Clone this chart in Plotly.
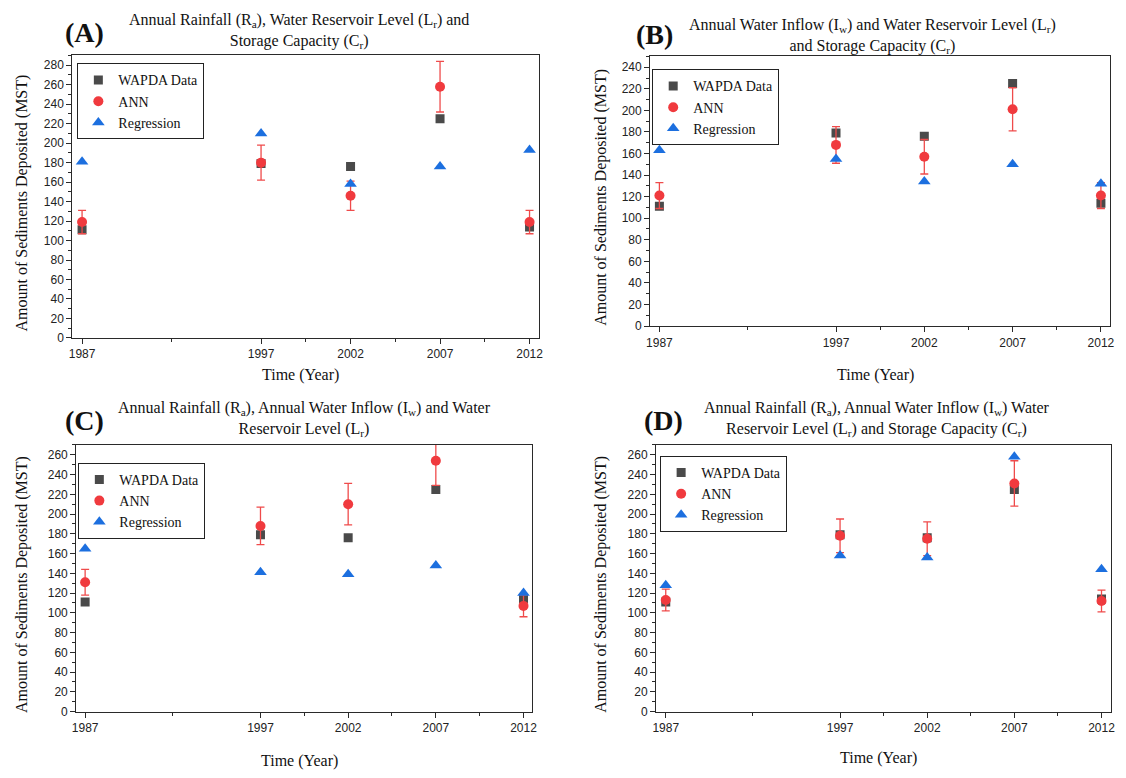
import plotly.graph_objects as go

years = [1987, 1997, 2002, 2007, 2012]
year_labels = ["1987", "1997", "2002", "2007", "2012"]

# Panel A
a_wapda = [111, 179, 176, 225, 114]
a_ann = [119, 180, 146, 258, 119]
a_ann_err = [12, 18, 15, 26, 12]
a_reg = [181, 210, 158, 176, 193]

# Panel B
b_wapda = [111, 179, 176, 225, 114]
b_ann = [121, 168, 157, 201, 121]
b_ann_err = [12, 17, 16, 20, 12]
b_reg = [163, 155, 134, 150, 132]

# Panel C
c_wapda = [111, 179, 176, 225, 114]
c_ann = [131, 188, 210, 254, 107]
c_ann_err = [13, 19, 21, 25, 11]
c_reg = [165, 141, 139, 148, 120]

# Panel D
d_wapda = [111, 179, 176, 225, 114]
d_ann = [113, 178, 175, 231, 112]
d_ann_err = [11, 17, 17, 23, 11]
d_reg = [128, 158, 156, 258, 144]

panels = [
    dict(label="(A)",
         title="Annual Rainfall (R<sub>a</sub>), Water Reservoir Level (L<sub>r</sub>) and<br>Storage Capacity (C<sub>r</sub>)",
         wapda=a_wapda, ann=a_ann, err=a_ann_err, reg=a_reg),
    dict(label="(B)",
         title="Annual Water Inflow (I<sub>w</sub>) and Water Reservoir Level (L<sub>r</sub>)<br>and Storage Capacity (C<sub>r</sub>)",
         wapda=b_wapda, ann=b_ann, err=b_ann_err, reg=b_reg),
    dict(label="(C)",
         title="Annual Rainfall (R<sub>a</sub>), Annual Water Inflow (I<sub>w</sub>) and Water<br>Reservoir Level (L<sub>r</sub>)",
         wapda=c_wapda, ann=c_ann, err=c_ann_err, reg=c_reg),
    dict(label="(D)",
         title="Annual Rainfall (R<sub>a</sub>), Annual Water Inflow (I<sub>w</sub>) Water<br>Reservoir Level (L<sub>r</sub>) and Storage Capacity (C<sub>r</sub>)",
         wapda=d_wapda, ann=d_ann, err=d_ann_err, reg=d_reg),
]

W, H = 1126, 778
# layout geometry in pixels (left, right, top, bottom)
boxes = [(68, 539, 56, 341), (651, 1115, 57, 329), (72, 532, 449, 718), (657, 1116, 449, 718)]
yranges = [[0, 290], [0, 250], [0, 270], [0, 270]]
xranges = [[1986.46, 2012.54], [1986.48, 2012.52], [1986.5, 2012.5], [1986.45, 2012.55]]
ydticks = [20, 20, 20, 20]
legend_pos = [(73, 64), (653, 70), (74, 467), (661, 460)]
title_pos = [(297, 31), (875, 36), (302, 423), (880, 423)]
label_pos = [(80, 33), (655, 35), (80, 424), (664, 424)]
ytitle_x = [17, 602, 17, 602]
xtitle_y = [378, 378, 768, 765]

SERIF = "Liberation Serif"
SANS = "Liberation Sans"
C_WAPDA = "#4a4a4a"
C_ANN = "#f03a3e"
C_REG = "#1c6fdf"

fig = go.Figure()
layout = dict(width=W, height=H, margin=dict(l=0, r=0, t=0, b=0),
              paper_bgcolor="white", plot_bgcolor="white", showlegend=True,
              font=dict(family=SERIF, size=14, color="#111"))
annotations = []

for i, p in enumerate(panels):
    n = "" if i == 0 else str(i + 1)
    xa, ya = "x" + n, "y" + n
    lg = "legend" if i == 0 else "legend" + str(i + 1)
    fig.add_trace(go.Scatter(x=years, y=p["wapda"], mode="markers", name="WAPDA Data",
                             marker=dict(symbol="square", size=9, color=C_WAPDA),
                             xaxis=xa, yaxis=ya, legend=lg))
    fig.add_trace(go.Scatter(x=years, y=p["ann"], mode="markers", name="ANN",
                             marker=dict(symbol="circle", size=10, color=C_ANN),
                             error_y=dict(type="data", array=p["err"], visible=True,
                                          color="#ef4b4b", thickness=1.3, width=4),
                             cliponaxis=False,
                             xaxis=xa, yaxis=ya, legend=lg))
    fig.add_trace(go.Scatter(x=years, y=p["reg"], mode="markers", name="Regression",
                             marker=dict(symbol="triangle-up", size=11, color=C_REG),
                             xaxis=xa, yaxis=ya, legend=lg))
    l, r, t, b = boxes[i]
    axcommon = dict(showgrid=False, zeroline=False, showline=True, mirror=True,
                    linecolor="#2a2a2a", linewidth=1.3, ticks="outside",
                    tickcolor="#2a2a2a", tickwidth=1.2,
                    tickfont=dict(family=SANS, size=12, color="#222"))
    layout["xaxis" + n] = dict(axcommon, domain=[l / W, r / W], anchor=ya,
                               range=xranges[i], tickmode="array", tickvals=years,
                               ticktext=year_labels, ticklen=5,
                               minor=dict(tickmode="array", tickvals=[1992, 1999.5, 2004.5, 2009.5],
                                          ticks="outside", ticklen=3, tickcolor="#2a2a2a"))
    layout["yaxis" + n] = dict(axcommon, domain=[1 - b / H, 1 - t / H], anchor=xa,
                               range=yranges[i], dtick=ydticks[i], tick0=0, ticklen=5,
                               minor=dict(dtick=10, tick0=0, ticks="outside", ticklen=3,
                                          tickcolor="#2a2a2a"))
    lx, ly = legend_pos[i]
    layout[lg] = dict(x=lx / W, y=1 - ly / H, xanchor="left", yanchor="top",
                      bordercolor="#222", borderwidth=1, bgcolor="white",
                      font=dict(family=SERIF, size=14, color="#111"),
                      tracegroupgap=0, itemwidth=30)
    tx, ty = title_pos[i]
    annotations.append(dict(text=p["title"], x=tx / W, y=1 - ty / H, xref="paper", yref="paper",
                            xanchor="center", yanchor="middle", showarrow=False,
                            font=dict(family=SERIF, size=16, color="#111")))
    px, py = label_pos[i]
    annotations.append(dict(text="<b>" + p["label"] + "</b>", x=px / W, y=1 - py / H,
                            xref="paper", yref="paper", xanchor="center", yanchor="middle",
                            showarrow=False, font=dict(family=SERIF, size=28, color="#111")))
    annotations.append(dict(text="Amount of Sediments Deposited (MST)", x=ytitle_x[i] / W,
                            y=1 - ((t + b) / 2 + 6) / H, xref="paper", yref="paper",
                            xanchor="center", yanchor="middle", textangle=-90, showarrow=False,
                            font=dict(family=SERIF, size=16, color="#111")))
    annotations.append(dict(text="Time (Year)", x=((l + r) / 2 - 5) / W, y=1 - xtitle_y[i] / H,
                            xref="paper", yref="paper", xanchor="center", yanchor="middle",
                            showarrow=False, font=dict(family=SERIF, size=16, color="#111")))

layout["annotations"] = annotations
fig.update_layout(**layout)
fig.write_html("out.html")
